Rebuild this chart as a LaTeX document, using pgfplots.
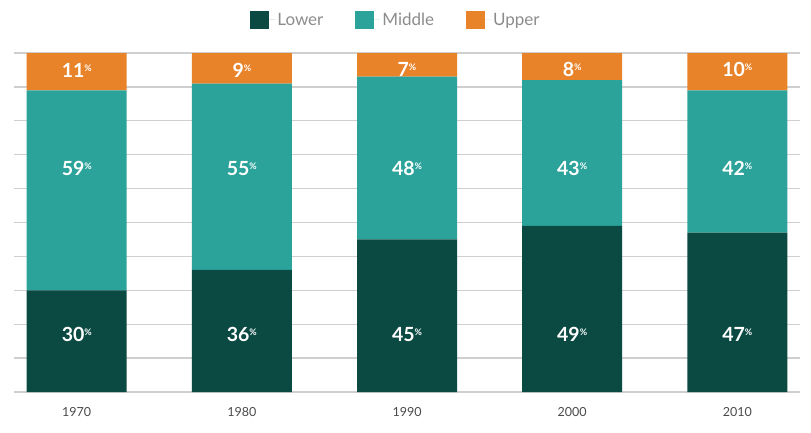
\documentclass[border=0pt]{standalone}
\usepackage{fontspec}
\setmainfont{Lato}
\usepackage{pgfplots}
\pgfplotsset{compat=1.18}
\usepackage{pgfplotstable}
\definecolor{lowc}{HTML}{0B4A43}
\definecolor{midc}{HTML}{2BA39A}
\definecolor{upc}{HTML}{E8832A}
\definecolor{gridc}{HTML}{CFCFCF}
\definecolor{txtc}{HTML}{4A4A4A}
\definecolor{legc}{HTML}{8C8C8C}
\pgfplotstableread{
x year lower middle upper
0 1970 30 59 11
1 1980 36 55 9
2 1990 45 48 7
3 2000 49 43 8
4 2010 47 42 11
}\data
\newcommand{\pct}[1]{\fontsize{19.5}{19.5}\selectfont\bfseries #1\raisebox{0.6ex}{\fontsize{9}{9}\selectfont\bfseries\%}}
\begin{document}
\begin{tikzpicture}
\begin{axis}[
  scale only axis, width=786pt, height=339pt,
  ybar stacked, bar width=100pt,
  xmin=-0.38, xmax=4.38, ymin=0, ymax=100,
  axis line style={draw=none},
  ytick={0,10,...,100}, yticklabels={},
  ymajorgrids, grid style={gridc, line width=1.3pt},
  xtick={0,1,2,3,4}, xticklabels={1970,1980,1990,2000,2010},
  tick style={draw=none},
  x tick label style={font=\fontsize{12.5}{12.5}\selectfont, text=txtc, yshift=-12pt},
  legend columns=3,
  legend style={at={(0.5,1)}, anchor=south, yshift=22pt, xshift=-11pt, draw=none, fill=none,
    font=\fontsize{17}{17}\selectfont, text=legc,
    /tikz/every even column/.append style={column sep=30pt}},
  legend image code/.code={\fill[#1] (0pt,-9pt) rectangle (19pt,9pt); \path (0pt,0pt) -- (25pt,0pt);},
  every axis plot/.append style={draw=none},
]
\addplot[fill=lowc] table[x=x, y=lower] {\data};
\addplot[fill=midc] table[x=x, y=middle] {\data};
\addplot[fill=upc] table[x=x, y=upper] {\data};
\legend{Lower, Middle, Upper}
\coordinate (sw) at (rel axis cs:0,0);
\coordinate (u0) at (axis cs:0,95);
\coordinate (u1) at (axis cs:1,95);
\coordinate (u2) at (axis cs:2,95);
\coordinate (u3) at (axis cs:3,95);
\coordinate (u4) at (axis cs:4,95);
\coordinate (m0) at (axis cs:0,66);
\coordinate (m1) at (axis cs:1,66);
\coordinate (m2) at (axis cs:2,66);
\coordinate (m3) at (axis cs:3,66);
\coordinate (m4) at (axis cs:4,66);
\coordinate (l0) at (axis cs:0,17);
\coordinate (l1) at (axis cs:1,17);
\coordinate (l2) at (axis cs:2,17);
\coordinate (l3) at (axis cs:3,17);
\coordinate (l4) at (axis cs:4,17);
\end{axis}
\tikzset{lbl/.style={text=white, anchor=center}}
\node[lbl] at (u0) {\pct{11}};
\node[lbl] at (u1) {\pct{9}};
\node[lbl] at (u2) {\pct{7}};
\node[lbl] at (u3) {\pct{8}};
\node[lbl] at (u4) {\pct{10}};
\node[lbl] at (m0) {\pct{59}};
\node[lbl] at (m1) {\pct{55}};
\node[lbl] at (m2) {\pct{48}};
\node[lbl] at (m3) {\pct{43}};
\node[lbl] at (m4) {\pct{42}};
\node[lbl] at (l0) {\pct{30}};
\node[lbl] at (l1) {\pct{36}};
\node[lbl] at (l2) {\pct{45}};
\node[lbl] at (l3) {\pct{49}};
\node[lbl] at (l4) {\pct{47}};
\pgfresetboundingbox
\path (sw) ++(-14pt,-40pt) rectangle ++(811pt,432pt);
\end{tikzpicture}
\end{document}
